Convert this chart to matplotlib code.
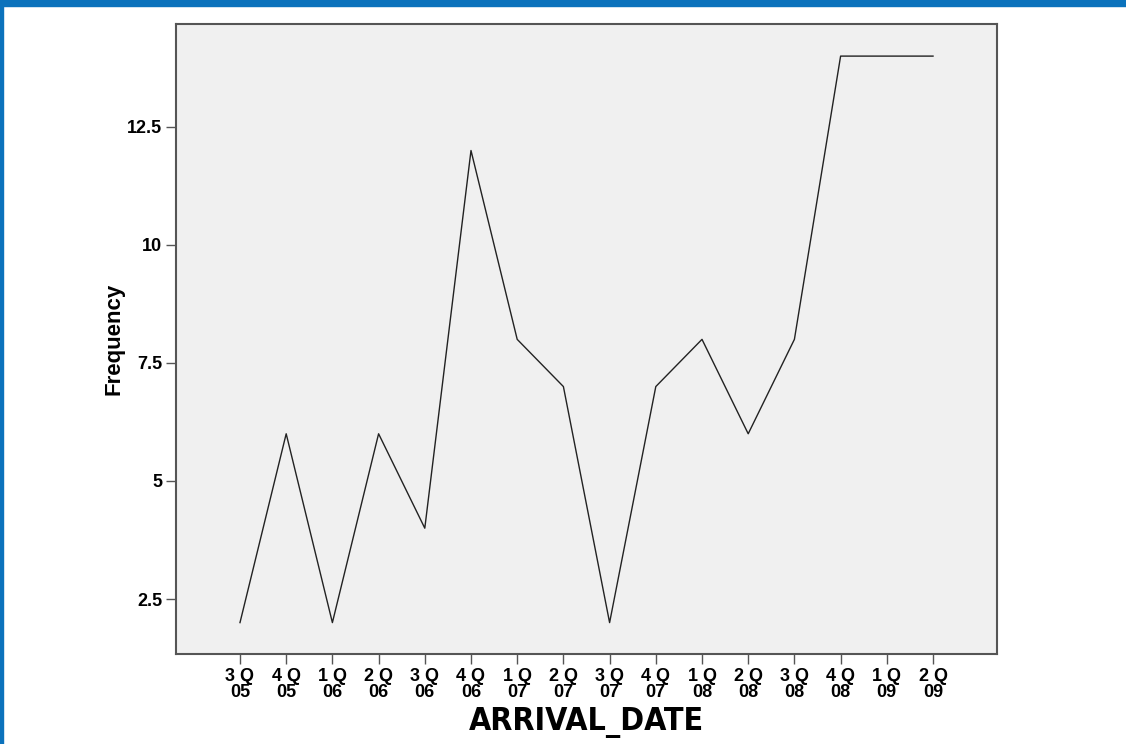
import matplotlib
matplotlib.use('Agg')
from matplotlib import pyplot as plt
from matplotlib.patches import Rectangle

quarters = ['3 Q\n05', '4 Q\n05', '1 Q\n06', '2 Q\n06', '3 Q\n06', '4 Q\n06',
            '1 Q\n07', '2 Q\n07', '3 Q\n07', '4 Q\n07', '1 Q\n08', '2 Q\n08',
            '3 Q\n08', '4 Q\n08', '1 Q\n09', '2 Q\n09']
frequency = [2, 6, 2, 6, 4, 12, 8, 7, 2, 7, 8, 6, 8, 14, 14, 14]
yticks = [2.5, 5, 7.5, 10, 12.5]
ylabels = ['2.5', '5', '7.5', '10', '12.5']

plt.rcParams['font.family'] = ['Liberation Sans', 'DejaVu Sans']

fig = plt.figure(figsize=(11.26, 7.44), dpi=100)
# blue window frame
fig.patches.append(Rectangle((0, 1 - 6/744), 1, 6/744, transform=fig.transFigure,
                             color='#0B72BC', zorder=10))
fig.patches.append(Rectangle((0, 0), 2.5/1126, 1, transform=fig.transFigure,
                             color='#0B72BC', zorder=10))

ax = fig.add_axes([176/1126, 1 - 654/744, (997 - 176)/1126, (654 - 24)/744])
ax.set_facecolor('#F0F0F0')
x = list(range(len(quarters)))
ax.plot(x, frequency, color='#222222', lw=1.0)

ax.set_xlim(-1.385, 16.385)
ax.set_ylim(1.335, 14.68)
ax.set_xticks(x)
ax.set_xticklabels(quarters, fontsize=13, fontweight='bold', linespacing=0.95)
ax.set_yticks(yticks)
ax.set_yticklabels(ylabels, fontsize=13, fontweight='bold')
ax.tick_params(axis='both', direction='out', length=7, width=1, color='#555555', pad=3)

for s in ax.spines.values():
    s.set_color('#555555')
    s.set_linewidth(1.5)

ax.set_ylabel('Frequency', fontsize=16, fontweight='bold', labelpad=2)
ax.set_xlabel('ARRIVAL_DATE', fontsize=23, fontweight='bold',
              family=['DejaVu Sans'], fontstretch='condensed', labelpad=4)

fig.savefig('out.png', dpi=100)
